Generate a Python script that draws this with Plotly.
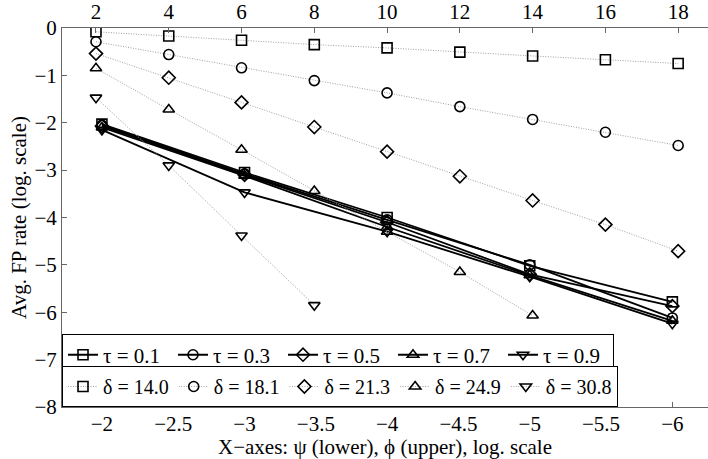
import plotly.graph_objects as go

# Lower axis (psi) series: solid lines
psi = [-2, -3, -4, -5, -6]
tau_labels = ["τ = 0.1", "τ = 0.3", "τ = 0.5", "τ = 0.7", "τ = 0.9"]
tau_01 = [-2.03, -3.05, -4.00, -5.02, -5.78]
tau_03 = [-2.05, -3.08, -4.05, -5.00, -6.12]
tau_05 = [-2.07, -3.10, -4.10, -5.20, -5.87]
tau_07 = [-2.10, -3.12, -4.20, -5.22, -6.18]
tau_09 = [-2.15, -3.47, -4.30, -5.25, -6.24]

# Upper axis (phi) series: dotted lines
phi = [2, 4, 6, 8, 10, 12, 14, 16, 18]
delta_labels = ["δ = 14.0", "δ = 18.1", "δ = 21.3", "δ = 24.9", "δ = 30.8"]
delta_140 = [-0.08, -0.17, -0.26, -0.35, -0.42, -0.51, -0.59, -0.67, -0.75]
delta_181 = [-0.29, -0.56, -0.84, -1.11, -1.37, -1.66, -1.93, -2.20, -2.48]
delta_213 = [-0.54, -1.05, -1.57, -2.09, -2.61, -3.13, -3.64, -4.15, -4.71]
delta_249 = [-0.85, -1.72, -2.57, -3.44, -4.30, -5.15, -6.07]
delta_308 = [-1.47, -2.90, -4.38, -5.85]

symbols = ["square-open", "circle-open", "diamond-open", "triangle-up-open", "triangle-down-open"]

psi_ticks = [-2, -2.5, -3, -3.5, -4, -4.5, -5, -5.5, -6]
phi_ticks = [2, 4, 6, 8, 10, 12, 14, 16, 18]
y_ticks = [0, -1, -2, -3, -4, -5, -6, -7, -8]

FONT = "Liberation Serif"

fig = go.Figure()

for lab, ys, sym in zip(delta_labels, [delta_140, delta_181, delta_213, delta_249, delta_308], symbols):
    fig.add_trace(go.Scatter(
        x=phi[:len(ys)], y=ys, name=lab, mode="lines+markers",
        xaxis="x2", yaxis="y", legend="legend2",
        line=dict(color="#a0a0a0", width=1, dash="1px,1.5px"),
        marker=dict(symbol=sym, size=10, color="black", line=dict(width=1.6, color="black")),
    ))

for lab, ys, sym in zip(tau_labels, [tau_01, tau_03, tau_05, tau_07, tau_09], symbols):
    fig.add_trace(go.Scatter(
        x=psi, y=ys, name=lab, mode="lines+markers",
        xaxis="x", yaxis="y", legend="legend",
        line=dict(color="black", width=1.8),
        marker=dict(symbol=sym, size=10, color="black", line=dict(width=1.6, color="black")),
    ))

axis_common = dict(showgrid=False, zeroline=False, showline=True, linecolor="#666666",
                   linewidth=1, ticks="inside", ticklen=5, tickcolor="#666666",
                   tickfont=dict(family=FONT, size=21, color="black"))

fig.update_layout(
    width=708, height=459,
    margin=dict(l=62, r=0, t=25, b=52),
    paper_bgcolor="white", plot_bgcolor="white",
    font=dict(family=FONT, size=20, color="black"),
    xaxis=dict(range=[-1.72, -6.25], tickvals=psi_ticks,
               ticktext=[f"{v:g}".replace("-", "−") for v in psi_ticks],
               ticklabelstandoff=-2,
               title=dict(text="X−axes: ψ (lower), ϕ (upper), log. scale",
                          font=dict(family=FONT, size=21), standoff=7),
               **axis_common),
    xaxis2=dict(range=[1.066, 18.82], tickvals=phi_ticks, overlaying="x", side="top",
                anchor="y", **axis_common),
    yaxis=dict(range=[-8, 0], tickvals=y_ticks,
               title=dict(text="Avg. FP rate (log. scale)", font=dict(family=FONT, size=21), standoff=2),
               **axis_common),
    legend=dict(x=0, y=(407 - 333) / 382, xanchor="left", yanchor="top",
                orientation="h", bgcolor="white", bordercolor="black", borderwidth=1,
                font=dict(family=FONT, size=21), itemwidth=30, tracegroupgap=0,
                entrywidth=65, entrywidthmode="pixels"),
    legend2=dict(x=0, y=0, xanchor="left", yanchor="bottom",
                 orientation="h", bgcolor="white", bordercolor="black", borderwidth=1,
                 font=dict(family=FONT, size=20), itemwidth=30),
    showlegend=True,
)

fig.write_html("out.html")
